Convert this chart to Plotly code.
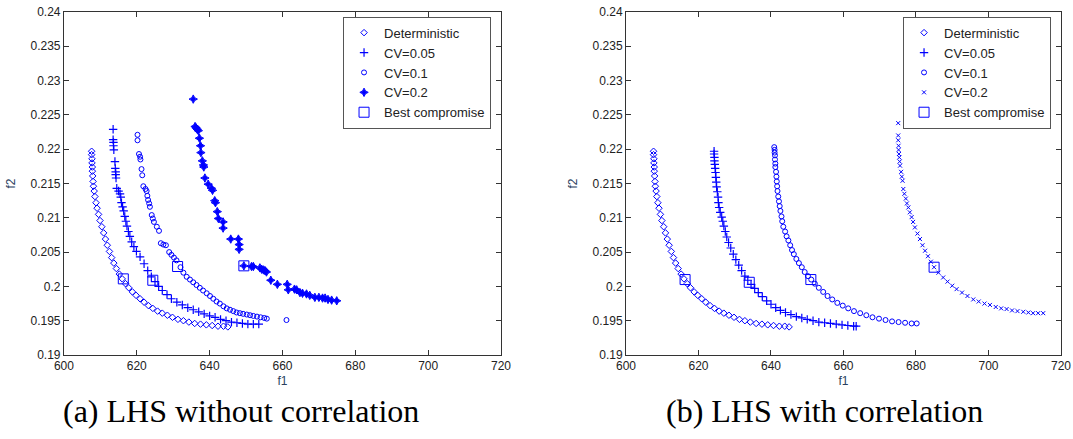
import plotly.graph_objs as go

# ---- data: (a) LHS without correlation ----
det_f1 = [607.6, 607.6, 607.7, 607.7, 607.8, 607.8, 607.9, 608.0, 608.1, 608.3, 608.5, 608.8, 609.1, 609.5,
          609.9, 610.4, 610.9, 611.4, 611.9, 612.5, 613.1, 613.7, 614.4, 615.2, 616.0, 616.9, 617.8, 618.8,
          619.8, 620.9, 622.0, 623.2, 624.4, 625.7, 627.0, 628.4, 629.8, 631.3, 632.8, 634.3, 635.9, 637.5,
          639.1, 640.7, 642.3, 643.8, 645.0]
det_f2 = [0.2197, 0.2192, 0.2186, 0.2180, 0.2174, 0.2168, 0.2161, 0.2153, 0.2146, 0.2139, 0.2131, 0.2122,
          0.2114, 0.2105, 0.2096, 0.2087, 0.2078, 0.2069, 0.2060, 0.2051, 0.2042, 0.2034, 0.2026, 0.2018,
          0.2011, 0.2004, 0.1998, 0.1992, 0.1987, 0.1982, 0.1977, 0.1972, 0.1968, 0.1964, 0.1961, 0.1958,
          0.1955, 0.1952, 0.1950, 0.1948, 0.1946, 0.1945, 0.1944, 0.1943, 0.1942, 0.1942, 0.1941]

a_cv005_f1 = [613.5, 613.5, 613.6, 613.6, 613.7, 614.0, 614.1, 614.2, 614.2, 614.3, 614.5, 615.0, 615.4, 615.6,
              615.8, 616.1, 616.4, 616.7, 617.0, 617.3, 617.7, 618.1, 618.6, 619.2, 619.9, 620.9, 622.0, 623.0,
              624.0, 625.0, 626.0, 627.0, 628.3, 629.5, 631.0, 632.5, 634.0, 635.5, 637.0, 638.5, 640.0, 641.5,
              643.0, 644.5, 646.0, 647.5, 649.0, 650.5, 652.0, 653.5]
a_cv005_f2 = [0.2229, 0.2214, 0.2210, 0.2205, 0.2199, 0.2182, 0.2172, 0.2167, 0.2163, 0.2158, 0.2143, 0.2139,
              0.2135, 0.2130, 0.2122, 0.2116, 0.2110, 0.2102, 0.2095, 0.2088, 0.2080, 0.2073, 0.2065, 0.2058,
              0.2051, 0.2043, 0.2033, 0.2023, 0.2014, 0.2007, 0.2000, 0.1994, 0.1988, 0.1982, 0.1977, 0.1973,
              0.1969, 0.1966, 0.1963, 0.1960, 0.1957, 0.1955, 0.1952, 0.1950, 0.1948, 0.1947, 0.1946, 0.1945,
              0.1945, 0.1945]

a_cv01_f1 = [620.2, 620.2, 620.6, 620.9, 621.0, 621.3, 621.5, 621.8, 622.4, 622.7, 622.9, 623.1, 623.4, 623.6,
             624.1, 624.4, 624.7, 625.5, 626.1, 626.6, 627.3, 628.0, 628.9, 629.5, 630.2, 630.9, 632.0, 632.8,
             633.7, 634.6, 635.5, 636.4, 637.3, 638.2, 639.2, 640.1, 641.0, 641.9, 642.8, 643.8, 644.7, 645.6,
             646.5, 647.4, 648.3, 649.2, 650.2, 651.1, 652.0, 653.0, 654.0, 655.0, 655.7, 661.1]
a_cv01_f2 = [0.2221, 0.2213, 0.2193, 0.2189, 0.2185, 0.2171, 0.2162, 0.2146, 0.2142, 0.2139, 0.2132, 0.2126,
             0.2121, 0.2116, 0.2104, 0.2099, 0.2094, 0.2087, 0.2081, 0.2063, 0.2061, 0.2060, 0.2050, 0.2046,
             0.2042, 0.2038, 0.2028, 0.2020, 0.2014, 0.2010, 0.2006, 0.2002, 0.1998, 0.1994, 0.1990, 0.1986,
             0.1982, 0.1978, 0.1975, 0.1971, 0.1968, 0.1966, 0.1964, 0.1962, 0.1961, 0.1960, 0.1959, 0.1958,
             0.1957, 0.1956, 0.1955, 0.1954, 0.1953, 0.1951]

a_cv02_f1 = [635.5, 636.0, 636.3, 636.6, 636.9, 637.2, 637.5, 637.6, 638.0, 638.3, 638.4, 638.7, 639.6, 640.5,
             640.8, 641.4, 641.6, 642.1, 642.4, 643.7, 643.7, 645.8, 647.9, 648.1, 648.1, 649.4, 651.5, 652.0,
             653.8, 654.3, 654.8, 655.2, 655.6, 656.8, 658.6, 661.3, 661.6, 663.3, 663.9, 664.8, 665.5, 666.6,
             667.5, 668.9, 670.0, 671.0, 671.7, 672.5, 673.5, 674.9]
a_cv02_f2 = [0.2273, 0.2233, 0.2231, 0.2229, 0.2227, 0.2216, 0.2205, 0.2195, 0.2183, 0.2177, 0.2174, 0.2158,
             0.2149, 0.2143, 0.2140, 0.2125, 0.2122, 0.2109, 0.2099, 0.2094, 0.2085, 0.2069, 0.2069, 0.2061,
             0.2054, 0.2030, 0.2029, 0.2029, 0.2027, 0.2025, 0.2024, 0.2023, 0.2021, 0.2009, 0.2003, 0.2003,
             0.1995, 0.1996, 0.1995, 0.1991, 0.1990, 0.1989, 0.1987, 0.1984, 0.1984, 0.1983, 0.1983, 0.1981,
             0.1980, 0.1979]

a_best_f1 = [616.3, 624.4, 631.2, 649.4]
a_best_f2 = [0.2011, 0.2009, 0.2029, 0.2030]

# ---- (b) LHS with correlation ----
b_cv005_f1 = [624.3, 624.3, 624.4, 624.4, 624.5, 624.6, 624.7, 624.8, 624.9, 625.0, 625.2, 625.4, 625.5, 625.7,
              626.0, 626.4, 626.7, 627.0, 627.4, 627.8, 628.3, 628.9, 629.6, 630.3, 631.1, 631.9, 632.8, 633.6,
              634.5, 635.5, 636.5, 637.6, 638.8, 640.0, 641.3, 642.6, 644.0, 645.5, 647.0, 648.5, 650.0, 651.6,
              653.2, 654.8, 656.4, 658.0, 659.6, 661.2, 662.8, 663.5]
b_cv005_f2 = [0.2197, 0.2193, 0.2188, 0.2183, 0.2178, 0.2172, 0.2166, 0.2159, 0.2152, 0.2145, 0.2138, 0.2130,
              0.2122, 0.2115, 0.2108, 0.2101, 0.2095, 0.2088, 0.2080, 0.2072, 0.2064, 0.2056, 0.2047, 0.2039,
              0.2031, 0.2023, 0.2015, 0.2009, 0.2003, 0.1997, 0.1991, 0.1985, 0.1979, 0.1974, 0.1969, 0.1965,
              0.1962, 0.1959, 0.1956, 0.1954, 0.1952, 0.1950, 0.1948, 0.1947, 0.1946, 0.1945, 0.1944, 0.1943,
              0.1942, 0.1942]

b_cv01_f1 = [640.9, 641.0, 641.0, 641.1, 641.1, 641.2, 641.2, 641.4, 641.5, 641.6, 641.7, 641.8, 642.0, 642.2,
             642.4, 642.6, 642.9, 643.1, 643.4, 643.9, 644.3, 644.8, 645.3, 645.8, 646.3, 647.0, 647.7, 648.5,
             649.3, 650.2, 651.1, 652.1, 653.2, 654.4, 655.6, 656.9, 658.3, 659.8, 661.3, 662.9, 664.6, 666.3,
             668.0, 669.8, 671.6, 673.4, 675.2, 677.0, 678.8, 680.2]
b_cv01_f2 = [0.2203, 0.2199, 0.2195, 0.2191, 0.2185, 0.2179, 0.2174, 0.2167, 0.2160, 0.2153, 0.2146, 0.2139,
             0.2131, 0.2124, 0.2117, 0.2110, 0.2102, 0.2095, 0.2087, 0.2080, 0.2073, 0.2067, 0.2060, 0.2053,
             0.2047, 0.2040, 0.2034, 0.2028, 0.2021, 0.2015, 0.2010, 0.2004, 0.1998, 0.1992, 0.1986, 0.1981,
             0.1976, 0.1972, 0.1968, 0.1964, 0.1961, 0.1958, 0.1955, 0.1953, 0.1951, 0.1949, 0.1948, 0.1947,
             0.1946, 0.1946]

b_cv02_f1 = [675.1, 675.1, 675.1, 675.2, 675.2, 675.3, 675.4, 675.5, 675.6, 675.9, 676.1, 676.3, 676.5, 676.8,
             677.2, 677.5, 677.9, 678.3, 678.8, 679.2, 679.7, 680.4, 681.1, 681.8, 682.5, 683.3, 684.1, 685.0,
             686.2, 687.5, 688.7, 690.0, 691.2, 692.7, 694.2, 695.8, 697.3, 698.9, 700.4, 702.0, 703.5, 705.0,
             706.5, 708.0, 709.6, 711.0, 712.3, 713.7, 715.1]
b_cv02_f2 = [0.2238, 0.2220, 0.2213, 0.2205, 0.2199, 0.2193, 0.2188, 0.2182, 0.2176, 0.2167, 0.2160, 0.2154,
             0.2142, 0.2135, 0.2128, 0.2121, 0.2115, 0.2108, 0.2101, 0.2094, 0.2086, 0.2077, 0.2069, 0.2060,
             0.2052, 0.2044, 0.2036, 0.2028, 0.2020, 0.2013, 0.2007, 0.2001, 0.1996, 0.1991, 0.1986, 0.1981,
             0.1978, 0.1975, 0.1973, 0.1970, 0.1968, 0.1967, 0.1965, 0.1964, 0.1963, 0.1962, 0.1961, 0.1961,
             0.1961]

b_best_f1 = [616.3, 634.0, 651.0, 685.0]
b_best_f2 = [0.2010, 0.2006, 0.2010, 0.2028]

x_ticks = [600, 620, 640, 660, 680, 700, 720]
y_ticks = [0.19, 0.195, 0.2, 0.205, 0.21, 0.215, 0.22, 0.225, 0.23, 0.235, 0.24]
y_tick_text = ['0.19', '0.195', '0.2', '0.205', '0.21', '0.215', '0.22', '0.225', '0.23', '0.235', '0.24']

BLUE = 'rgb(0,0,255)'
AXIS_COLOR = '#333333'


def scatter(x, y, name, symbol, size, axes, legend, width=1):
    return go.Scatter(
        x=x, y=y, mode='markers', name=name,
        xaxis=axes[0], yaxis=axes[1], legend=legend,
        marker=dict(symbol=symbol, size=size, color=BLUE, line=dict(color=BLUE, width=width)),
    )


def axis_style(domain, anchor, is_x):
    style = dict(
        domain=domain, anchor=anchor, showgrid=False, zeroline=False, automargin=False,
        showline=True, linecolor=AXIS_COLOR, linewidth=1, mirror='ticks',
        ticks='inside', ticklen=5, tickcolor=AXIS_COLOR,
        tickfont=dict(family='Liberation Sans, Arial', size=12, color='#222222'),
    )
    if is_x:
        style.update(range=[600, 720], tickvals=x_ticks,
                     title=dict(text='f1', standoff=4, font=dict(family='Liberation Sans', size=12)))
    else:
        style.update(range=[0.19, 0.24], tickvals=y_ticks, ticktext=y_tick_text,
                     title=dict(text='f2', standoff=12, font=dict(family='Liberation Sans', size=12)))
    return style


left = ('x', 'y')
right = ('x2', 'y2')
charts = [
    scatter(det_f1, det_f2, 'Deterministic', 'diamond-open', 5, left, 'legend'),
    scatter(a_cv005_f1, a_cv005_f2, 'CV=0.05', 'cross-thin-open', 6, left, 'legend', 1.2),
    scatter(a_cv01_f1, a_cv01_f2, 'CV=0.1', 'circle-open', 5, left, 'legend'),
    scatter(a_cv02_f1, a_cv02_f2, 'CV=0.2', 'star-diamond', 6, left, 'legend'),
    scatter(a_best_f1, a_best_f2, 'Best compromise', 'square-open', 10, left, 'legend'),
    scatter(det_f1, det_f2, 'Deterministic', 'diamond-open', 5, right, 'legend2'),
    scatter(b_cv005_f1, b_cv005_f2, 'CV=0.05', 'cross-thin-open', 6, right, 'legend2', 1.2),
    scatter(b_cv01_f1, b_cv01_f2, 'CV=0.1', 'circle-open', 5, right, 'legend2'),
    scatter(b_cv02_f1, b_cv02_f2, 'CV=0.2', 'x-thin-open', 4, right, 'legend2'),
    scatter(b_best_f1, b_best_f2, 'Best compromise', 'square-open', 10, right, 'legend2'),
]

legend_style = dict(
    bgcolor='white', bordercolor='#555555', borderwidth=1,
    font=dict(family='Liberation Sans, Arial', size=13, color='#222222'),
    xanchor='left', yanchor='top', itemwidth=30, tracegroupgap=0,
)

fig = go.Figure(data=charts, layout=go.Layout({
    'width': 1073, 'height': 439,
    'margin': dict(l=0, r=0, t=0, b=0),
    'paper_bgcolor': 'white', 'plot_bgcolor': 'white',
    'showlegend': True,
    'xaxis': axis_style([0.0596, 0.4669], 'y', True),
    'yaxis': axis_style([0.1913, 0.9727], 'x', False),
    'xaxis2': axis_style([0.5834, 0.9888], 'y2', True),
    'yaxis2': axis_style([0.1913, 0.9727], 'x2', False),
    'legend': dict(legend_style, x=0.3197, y=0.962),
    'legend2': dict(legend_style, x=0.8416, y=0.962),
}))

for text, xpos in [('(a) LHS without correlation', 0.2246), ('(b) LHS with correlation', 0.768)]:
    fig.add_annotation(
        x=xpos, y=0.064, xref='paper', yref='paper', text=text, showarrow=False,
        xanchor='center', yanchor='middle',
        font=dict(family='Liberation Serif, Times New Roman', size=32, color='black'),
    )

# page body has a default 8px margin; drop it so the figure sits at the window origin
fig.write_html("out.html", config={'displayModeBar': False},
               post_script="document.body.style.margin='0px';")
